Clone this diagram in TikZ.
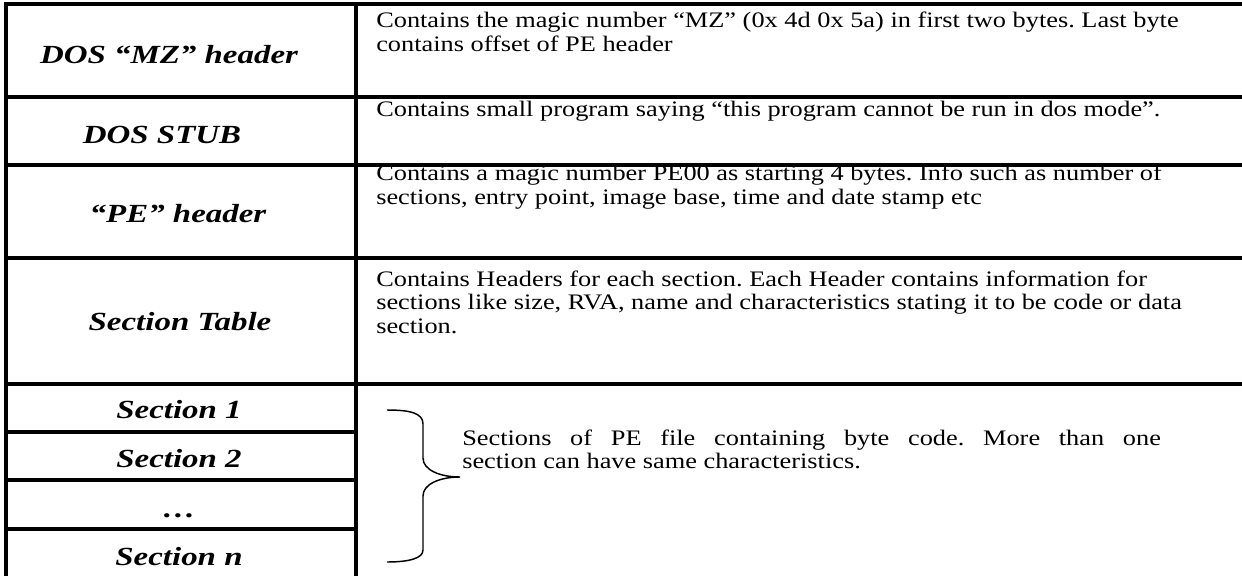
\documentclass[tikz,border=0pt]{standalone}
\usepackage{fontspec}
\setmainfont{Liberation Serif}
\newfontfamily\partfont[FakeStretch=1.26]{Liberation Serif}
\newfontfamily\infofont[FakeStretch=1.19]{Liberation Serif}
\usetikzlibrary{positioning}
\frenchspacing

\begin{document}
\begin{tikzpicture}[x=0.75pt, y=-0.75pt,
  rule/.style={line width=2.4pt, line cap=rect},
  bracerule/.style={line width=1.1pt},
  part/.style={font={\partfont\bfseries\itshape\fontsize{19.6}{24}\selectfont}, anchor=base, inner sep=0pt},
  info/.style={font={\infofont\fontsize{16.6}{17.6}\selectfont}, align=left, anchor=base west, inner sep=0pt}]
  \useasboundingbox (0,0) rectangle (1242,575);
  % Table rules
  \draw[rule] (6,575) -- (6,4) -- (1242,4);
  \draw[rule] (356,4) -- (356,575);
  \foreach \y in {97,165,258,384} \draw[rule] (6,\y) -- (1242,\y);
  \foreach \y in {432,480,529} \draw[rule] (6,\y) -- (356,\y);
  % Parts of the file
  \node[part] (mz) at (169,63) {DOS “MZ” header};
  \node[part] (stub) at (162,143) {DOS STUB};
  \node[part] (pe) at (178,222) {“PE” header};
  \node[part] (sectab) at (180,330) {Section Table};
  \node[part] (sec1) at (179,418) {Section 1};
  \node[part] (sec2) at (179,467) {Section 2};
  \node[part] (secdots) at (179,517) {…};
  \node[part] (secn) at (179,565) {Section n};
  % What each part holds (base = last line)
  \node[info] (mzinfo) at (376,51) {Contains the magic number “MZ” (0x 4d 0x 5a) in first two bytes. Last byte\\contains offset of PE header};
  \node[info] (stubinfo) at (376,116) {Contains small program saying “this program cannot be run in dos mode”.};
  \node[info] (peinfo) at (376,204) {Contains a magic number PE00 as starting 4 bytes. Info such as number of\\sections, entry point, image base, time and date stamp etc};
  \node[info] (sectabinfo) at (376,333) {Contains Headers for each section. Each Header contains information for\\sections like size, RVA, name and characteristics stating it to be code or data\\section.};
  % Brace over the sections
  \draw[bracerule] (387,410) .. controls (410,410) and (423,413) .. (423,424) -- (423,458)
    .. controls (423,470) and (440,477) .. (460,477)
    .. controls (440,477) and (423,484) .. (423,496) -- (423,550)
    .. controls (423,558) and (410,562) .. (387,562);
  \node[info, text width=524pt, align=justify] (secinfo) at (462,445) {Sections of PE file containing byte code. More than one\linebreak section can have same characteristics.};
\end{tikzpicture}
\end{document}
